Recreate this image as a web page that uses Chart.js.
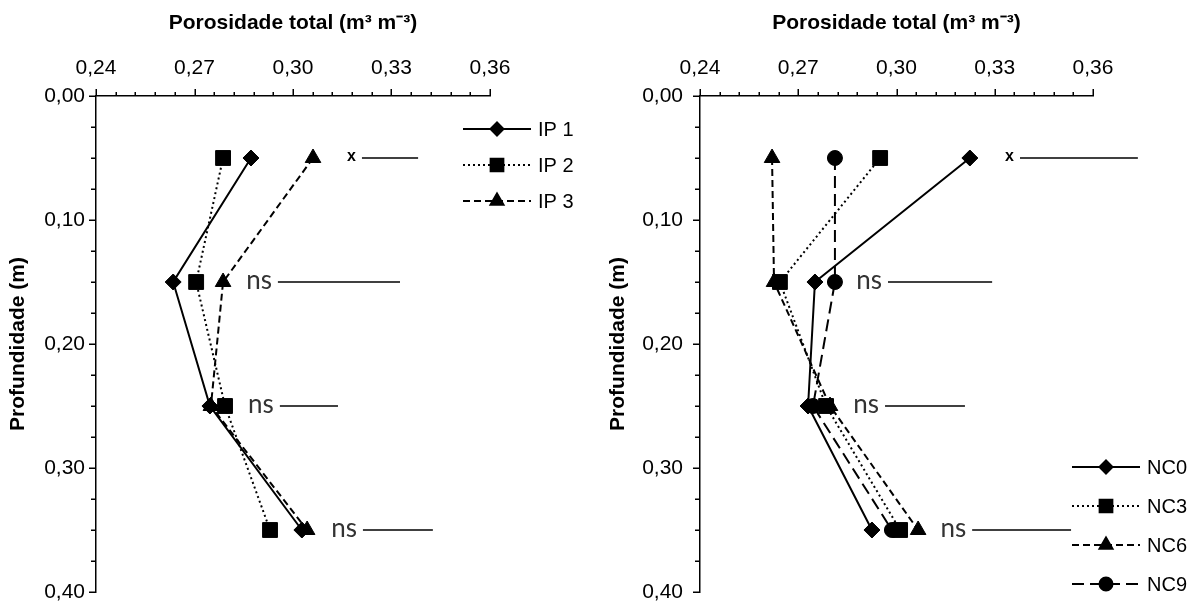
<!DOCTYPE html>
<html>
<head>
<meta charset="utf-8">
<script src="https://cdn.jsdelivr.net/npm/chart.js@4.4.0/dist/chart.umd.min.js"></script>
<style>
  html, body { margin: 0; padding: 0; background: #fff; }
  .panel { position: absolute; top: 0; width: 597px; height: 607px; }
</style>
</head>
<body>
<div class="panel" style="left:0"><canvas id="left" width="597" height="607"></canvas></div>
<div class="panel" style="left:597px"><canvas id="right" width="597" height="607"></canvas></div>
<script>
// depth of each layer (m)
const depths = [0.05, 0.15, 0.25, 0.35];

// left panel - total porosity per IP treatment
const ipNames = ['IP 1', 'IP 2', 'IP 3'];
const ip1 = [0.2872, 0.2635, 0.2747, 0.3027];
const ip2 = [0.2787, 0.2705, 0.2793, 0.2930];
const ip3 = [0.3061, 0.2787, 0.2750, 0.3043];

// right panel - total porosity per NC treatment
const ncNames = ['NC0', 'NC3', 'NC6', 'NC9'];
const nc0 = [0.3224, 0.2751, 0.2730, 0.2925];
const nc3 = [0.2950, 0.2644, 0.2785, 0.3011];
const nc6 = [0.2620, 0.2626, 0.2797, 0.3066];
const nc9 = [0.2812, 0.2812, 0.2745, 0.2986];

// significance marks per depth and the span of the line after them
const sigLabels = ['x', 'ns', 'ns', 'ns'];
const sigLineIP = [[0.3210, 0.3381], [0.2954, 0.3326], [0.2960, 0.3137], [0.3213, 0.3426]];
const sigLineNC = [[0.3377, 0.3737], [0.2974, 0.3292], [0.2965, 0.3209], [0.3231, 0.3533]];

// axis ticks
const xTicks = [0.24, 0.27, 0.30, 0.33, 0.36];
const yTicks = [0.00, 0.10, 0.20, 0.30, 0.40];

const fmt = v => Number(v).toFixed(2).replace('.', ',');
const FONT = "'Liberation Sans', Arial, sans-serif";

// line look for each series
const looks = [
  { dash: [], point: 'rectRot', r: 8, lr: 6.5 },
  { dash: [2, 3], point: 'rect', r: 10.5, lr: 9 },
  { dash: [7, 4], point: 'triangle', r: 9, lr: 7.5 },
  { dash: [12, 6], point: 'circle', r: 7.5, lr: 6.5 }
];

const ticksPlugin = {
  id: 'ticksPlugin',
  afterDraw(chart) {
    const { ctx, chartArea: a, scales: { x, y } } = chart;
    ctx.save();
    ctx.strokeStyle = '#000';
    ctx.lineWidth = 1.5;
    ctx.beginPath();
    // x: minor every 0.006 (5 per major)
    for (let i = 0; i <= 20; i++) {
      const px = Math.round(x.getPixelForValue(0.24 + i * 0.006)) + 0.25;
      const len = i % 5 === 0 ? 7 : 4;
      ctx.moveTo(px, a.top);
      ctx.lineTo(px, a.top - len);
    }
    // y: minor every 0.025 (4 per major)
    for (let i = 0; i <= 16; i++) {
      const py = Math.round(y.getPixelForValue(i * 0.025)) + 0.25;
      const len = i % 4 === 0 ? 7 : 5;
      ctx.moveTo(a.left, py);
      ctx.lineTo(a.left - len, py);
    }
    ctx.stroke();
    ctx.restore();
  }
};

const sigPlugin = {
  id: 'sigPlugin',
  afterDatasetsDraw(chart, args, opts) {
    const { ctx, scales: { x, y } } = chart;
    ctx.save();
    ctx.textAlign = 'right';
    ctx.textBaseline = 'middle';
    opts.lines.forEach((seg, k) => {
      const px = x.getPixelForValue(seg[0]) - 6;
      const py = y.getPixelForValue(depths[k]);
      if (sigLabels[k] === 'x') {
        ctx.font = 'bold 16px ' + FONT;
        ctx.fillStyle = '#000';
        ctx.fillText('x', px, py - 1);
      } else {
        ctx.font = "26px Lato, 'Open Sans', sans-serif";
        ctx.fillStyle = '#333';
        ctx.fillText(sigLabels[k], px, py - 1);
      }
    });
    ctx.restore();
  }
};

const legendPlugin = {
  id: 'legendPlugin',
  afterDraw(chart, args, opts) {
    const { ctx } = chart;
    ctx.save();
    chart.data.datasets.filter(d => !d.sig).forEach((d, i) => {
      const yy = opts.y + i * opts.gap;
      ctx.strokeStyle = '#000';
      ctx.lineWidth = 2;
      ctx.setLineDash(d.borderDash);
      ctx.beginPath();
      ctx.moveTo(opts.x, yy);
      ctx.lineTo(opts.x + 68, yy);
      ctx.stroke();
      ctx.setLineDash([]);
      ctx.fillStyle = '#000';
      Chart.helpers.drawPoint(ctx, { pointStyle: d.pointStyle, radius: d.legendR, rotation: 0, borderWidth: 1 }, opts.x + 34, yy);
      ctx.font = '20px ' + FONT;
      ctx.textAlign = 'left';
      ctx.textBaseline = 'middle';
      ctx.fillText(d.label, opts.x + 75, yy + 1);
    });
    ctx.restore();
  }
};

function makeChart(id, names, series, sigLines, box) {
  const datasets = series.map((vals, i) => ({
    label: names[i],
    data: vals.map((v, k) => ({ x: v, y: depths[k] })),
    showLine: true,
    borderColor: '#000',
    backgroundColor: '#000',
    borderWidth: 2,
    borderDash: looks[i].dash,
    pointStyle: looks[i].point,
    pointRadius: looks[i].r,
    pointBorderWidth: 1,
    legendR: looks[i].lr
  }));
  sigLines.forEach((seg, k) => datasets.push({
    sig: true,
    label: '',
    data: [{ x: seg[0], y: depths[k] }, { x: seg[1], y: depths[k] }],
    showLine: true,
    borderColor: '#000',
    borderWidth: 1.4,
    pointRadius: 0,
    clip: false
  }));

  return new Chart(document.getElementById(id), {
    type: 'scatter',
    data: { datasets },
    plugins: [ticksPlugin, sigPlugin, legendPlugin],
    options: {
      responsive: false,
      animation: false,
      events: [],
      layout: { padding: { left: 0, top: 0, right: box.right, bottom: 15 } },
      plugins: {
        legend: { display: false },
        tooltip: { enabled: false },
        sigPlugin: { lines: sigLines },
        legendPlugin: box.legend
      },
      scales: {
        x: {
          type: 'linear',
          position: 'top',
          min: 0.24,
          max: 0.36,
          afterFit: s => { s.height = 96; s.paddingLeft = 0; s.paddingRight = 0; },
          afterBuildTicks: s => { s.ticks = xTicks.map(v => ({ value: v })); },
          border: { display: true, color: '#000', width: 1.5 },
          grid: { display: false, drawTicks: false },
          ticks: { padding: 15, color: '#000', font: { family: FONT, size: 21 }, maxRotation: 0, autoSkip: false, callback: v => fmt(v) },
          title: { display: true, text: 'Porosidade total (m³ m⁻³)', color: '#000', font: { family: FONT, size: 21, weight: 'bold' }, padding: { top: 11 } }
        },
        y: {
          type: 'linear',
          reverse: true,
          min: 0,
          max: 0.4,
          afterFit: s => { s.width = box.yw; s.paddingTop = 0; s.paddingBottom = 0; },
          afterBuildTicks: s => { s.ticks = yTicks.map(v => ({ value: v })); },
          border: { display: true, color: '#000', width: 1.5 },
          grid: { display: false, drawTicks: false },
          ticks: { padding: box.ypad, color: '#000', font: { family: FONT, size: 21 }, autoSkip: false, callback: v => fmt(v) },
          title: { display: true, text: 'Profundidade (m)', color: '#000', font: { family: FONT, size: 21, weight: 'bold' }, padding: { top: box.ytitle } }
        }
      }
    }
  });
}

makeChart('left', ipNames, [ip1, ip2, ip3], sigLineIP,
  { right: 107, yw: 96, ypad: 11, ytitle: 6, legend: { x: 463, y: 129, gap: 36 } });
makeChart('right', ncNames, [nc0, nc3, nc6, nc9], sigLineNC,
  { right: 101, yw: 103, ypad: 17, ytitle: 9, legend: { x: 475, y: 467, gap: 39 } });
</script>
</body>
</html>
